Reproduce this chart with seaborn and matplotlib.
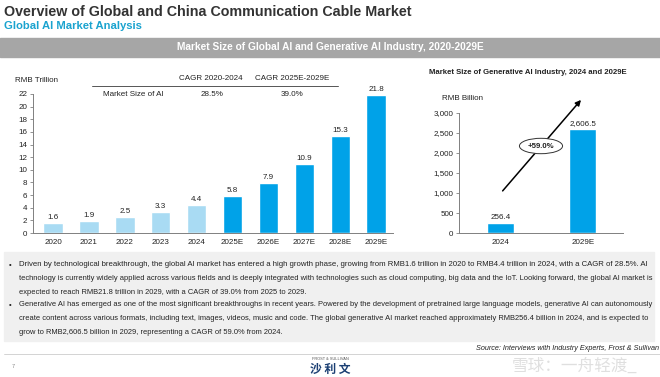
import numpy as np
import pandas as pd
import matplotlib as mpl
mpl.use("Agg")
import matplotlib.pyplot as plt
from matplotlib.patches import Rectangle
import seaborn as sns

# data
years = ["2020", "2021", "2022", "2023", "2024", "2025E", "2026E", "2027E", "2028E", "2029E"]
ai_size = [1.6, 1.9, 2.5, 3.3, 4.4, 5.8, 7.9, 10.9, 15.3, 21.8]
gen_years = ["2024", "2029E"]
gen_size = [256.4, 2606.5]
cagr_head = ["CAGR 2020-2024", "CAGR 2025E-2029E"]
cagr_vals = ["28.5%", "39.0%"]

light = "#a9dbf3"
dark = "#00a2e8"
txt = "#222222"
fs = 5.8

sns.set_theme(style="white")
plt.rcParams["font.family"] = ["Liberation Sans", "DejaVu Sans"]

fig = plt.figure(figsize=(6.6, 3.77), dpi=100)
W, H = 660, 377

def fx(px):
    return px / W

def fy(py):
    return 1 - py / H

# header
fig.text(fx(4), fy(12), "Overview of Global and China Communication Cable Market",
         fontsize=10.3, fontweight="bold", color="#333333", va="center")
fig.text(fx(4), fy(26), "Global AI Market Analysis", fontsize=8.1,
         fontweight="bold", color="#1aa3cf", va="center")
fig.patches.append(Rectangle((0, fy(57)), 1, fy(38) - fy(57), transform=fig.transFigure,
                             color="#a6a6a6", zorder=0))
fig.text(0.5, fy(47.5), "Market Size of Global AI and Generative AI Industry, 2020-2029E",
         fontsize=7.3, fontweight="bold", color="white", ha="center", va="center")

# left chart
df = pd.DataFrame({"year": years, "size": ai_size})
ax = fig.add_axes([fx(33), fy(233), fx(393) - fx(33), fy(94) - fy(233)])
cols = [light] * 5 + [dark] * 5
sns.barplot(data=df, x="year", y="size", hue="year", palette=cols, legend=False,
            width=0.54, ax=ax, saturation=1)
ax.set_ylim(0, 22)
ax.set_xlim(-0.56, 9.47)
ax.set_yticks(range(0, 23, 2))
ax.set_xlabel("")
ax.set_ylabel("")
for s in ["top", "right"]:
    ax.spines[s].set_visible(False)
for s in ["left", "bottom"]:
    ax.spines[s].set_color("#808080")
    ax.spines[s].set_linewidth(0.7)
ax.tick_params(axis="both", labelsize=fs, colors=txt, length=2, width=0.6, pad=2)
ax.tick_params(axis="y", left=True, color="#808080")
ax.tick_params(axis="x", bottom=False)
for i, v in enumerate(ai_size):
    ax.text(i, v + 0.35, f"{v:.1f}", ha="center", va="bottom", fontsize=fs,
            color=txt, clip_on=False)
fig.text(fx(15), fy(80), "RMB Trillion", fontsize=fs, color=txt, va="center")

# CAGR table
fig.add_artist(plt.Line2D([fx(92), fx(338)], [fy(86), fy(86)], transform=fig.transFigure,
                          color="#555555", lw=0.7))
fig.text(fx(211), fy(79), cagr_head[0], fontsize=fs, color=txt, ha="center", va="center")
fig.text(fx(292), fy(79), cagr_head[1], fontsize=fs, color=txt, ha="center", va="center")
fig.text(fx(133), fy(95), "Market Size of AI", fontsize=fs, color=txt, ha="center", va="center")
fig.text(fx(212), fy(95), cagr_vals[0], fontsize=fs, color=txt, ha="center", va="center")
fig.text(fx(292), fy(95), cagr_vals[1], fontsize=fs, color=txt, ha="center", va="center")

# right chart
df2 = pd.DataFrame({"year": gen_years, "size": gen_size})
ax2 = fig.add_axes([fx(459), fy(233), fx(623) - fx(459), fy(113) - fy(233)])
sns.barplot(data=df2, x="year", y="size", color=dark, width=0.33, ax=ax2, saturation=1)
ax2.set_ylim(0, 3000)
ax2.set_xlim(-0.51, 1.49)
ax2.set_yticks(range(0, 3001, 500))
ax2.yaxis.set_major_formatter(mpl.ticker.StrMethodFormatter("{x:,.0f}"))
ax2.set_xlabel("")
ax2.set_ylabel("")
for s in ["top", "right"]:
    ax2.spines[s].set_visible(False)
for s in ["left", "bottom"]:
    ax2.spines[s].set_color("#808080")
    ax2.spines[s].set_linewidth(0.7)
ax2.tick_params(axis="both", labelsize=fs, colors=txt, length=2, width=0.6, pad=2)
ax2.tick_params(axis="y", left=True, color="#808080")
ax2.tick_params(axis="x", bottom=False)
for i, v in enumerate(gen_size):
    ax2.text(i, v + 50, f"{v:,.1f}", ha="center", va="bottom", fontsize=fs,
             color=txt, clip_on=False)
ax2.annotate("", xy=(1.0, 3380), xytext=(0, 1000), xycoords="data",
             arrowprops=dict(arrowstyle="-|>", color="black", lw=1.1, mutation_scale=8),
             annotation_clip=False)
ax2.text(0.49, 2175, "+59.0%", ha="center", va="center", fontsize=5.6, fontweight="bold",
         color=txt, bbox=dict(boxstyle="ellipse,pad=0.25", fc="white", ec="#333333", lw=0.7))
fig.text(fx(528), fy(73), "Market Size of Generative AI Industry, 2024 and 2029E",
         fontsize=5.6, fontweight="bold", color=txt, ha="center", va="center")
fig.text(fx(442), fy(98), "RMB Billion", fontsize=fs, color=txt, va="center")

# commentary box; full lines are sized to fill the box width
fig.patches.append(Rectangle((fx(4), fy(341)), fx(650), fy(252) - fy(341),
                             transform=fig.transFigure, color="#f0f0f0", zorder=0))
lines = [
    ("•", True, "Driven by technological breakthrough, the global AI market has entered a high growth phase, growing from RMB1.6 trillion in 2020 to RMB4.4 trillion in 2024, with a CAGR of 28.5%. AI"),
    ("", True, "technology is currently widely applied across various fields and is deeply integrated with technologies such as cloud computing, big data and the IoT. Looking forward, the global AI market is"),
    ("", False, "expected to reach RMB21.8 trillion in 2029, with a CAGR of 39.0% from 2025 to 2029."),
    ("•", True, "Generative AI has emerged as one of the most significant breakthroughs in recent years. Powered by the development of pretrained large language models, generative AI can autonomously"),
    ("", True, "create content across various formats, including text, images, videos, music and code. The global generative AI market reached approximately RMB256.4 billion in 2024, and is expected to"),
    ("", False, "grow to RMB2,606.5 billion in 2029, representing a CAGR of 59.0% from 2024."),
]
ys = [265, 278, 292, 305, 318, 332]
body_fs = 5.45
x0, x1 = 19, 644
rend = fig.canvas.get_renderer()
for (b, just, t), y in zip(lines, ys):
    if b:
        fig.text(fx(9), fy(y), b, fontsize=5.5, color=txt, va="center")
    a = fig.text(fx(x0), fy(y), t, fontsize=body_fs, color=txt, va="center")
    if just:
        w = a.get_window_extent(rend).width
        a.set_fontsize(min(body_fs * (x1 - x0) / w, 5.8))

# footer
fig.text(fx(659), fy(348), "Source: Interviews with Industry Experts, Frost & Sullivan",
         fontsize=5.2, style="italic", color=txt, ha="right", va="center")
fig.add_artist(plt.Line2D([fx(4), fx(660)], [fy(354), fy(354)], transform=fig.transFigure,
                          color="#cccccc", lw=0.6))
fig.text(fx(12), fy(366), "7", fontsize=4, color="#888888", va="center")
fig.text(fx(330), fy(359), "FROST & SULLIVAN", fontsize=2.8, color="#555555", ha="center", va="center")
fig.text(fx(330), fy(369), "沙 利 文", fontsize=8.5, fontweight="bold", color="#1b3f73",
         ha="center", va="center", family=["Noto Sans CJK SC", "DejaVu Sans"])
fig.text(fx(575), fy(366), "雪球：一舟轻渡_", fontsize=12, color="#d8d8d8", alpha=0.8,
         ha="center", va="center", family=["Noto Sans CJK SC", "DejaVu Sans"])

fig.savefig("out.png", dpi=100)
